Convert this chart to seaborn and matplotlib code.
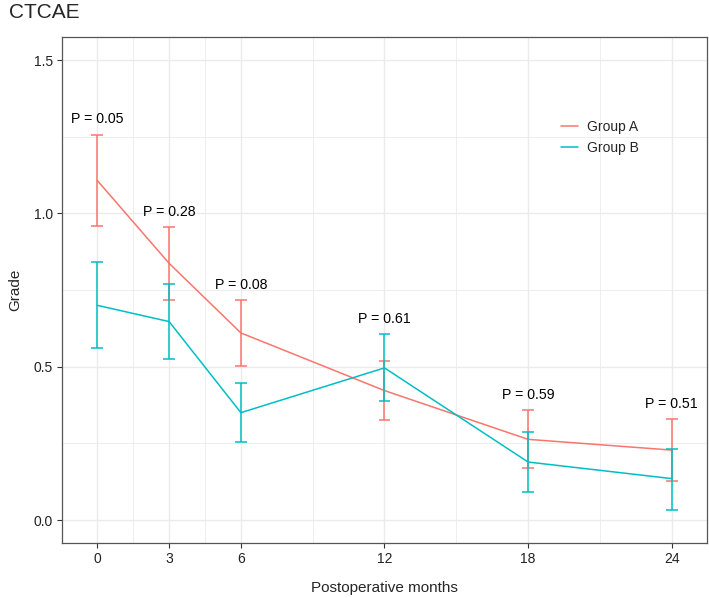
import matplotlib
matplotlib.use("Agg")
import matplotlib.pyplot as plt
import numpy as np
import pandas as pd
import seaborn as sns

# data
months = [0, 3, 6, 12, 18, 24]
a_mean = [1.107, 0.837, 0.610, 0.422, 0.263, 0.228]
a_low = [0.958, 0.716, 0.502, 0.325, 0.169, 0.127]
a_high = [1.256, 0.955, 0.716, 0.519, 0.359, 0.328]
b_mean = [0.700, 0.647, 0.350, 0.496, 0.189, 0.135]
b_low = [0.562, 0.525, 0.255, 0.389, 0.092, 0.033]
b_high = [0.840, 0.770, 0.447, 0.606, 0.286, 0.232]
p_labels = ["P = 0.05", "P = 0.28", "P = 0.08", "P = 0.61", "P = 0.59", "P = 0.51"]
groups = ["Group A", "Group B"]
colors = {"Group A": "#F8766D", "Group B": "#00BFC4"}

df = pd.DataFrame({
    "month": months * 2,
    "grade": a_mean + b_mean,
    "low": a_low + b_low,
    "high": a_high + b_high,
    "group": [groups[0]] * len(months) + [groups[1]] * len(months),
})

sns.set_theme(style="white")
plt.rcParams["font.family"] = ["Liberation Sans", "DejaVu Sans"]

fig = plt.figure(figsize=(7.09, 5.98), dpi=100)
ax = fig.add_axes([62 / 709, 1 - 543 / 598, 645 / 709, 506 / 598])

# grid like ggplot (major + minor)
for x in [0, 3, 6, 12, 18, 24]:
    ax.axvline(x, color="#EBEBEB", lw=1.0, zorder=0)
for x in [1.5, 4.5, 9, 15, 21]:
    ax.axvline(x, color="#EBEBEB", lw=0.6, zorder=0)
for y in [0, 0.5, 1.0, 1.5]:
    ax.axhline(y, color="#EBEBEB", lw=1.0, zorder=0)
for y in [0.25, 0.75, 1.25]:
    ax.axhline(y, color="#EBEBEB", lw=0.6, zorder=0)

sns.lineplot(data=df, x="month", y="grade", hue="group", palette=colors,
             linewidth=1.1, ax=ax, zorder=3)

hw = 0.25
for g in groups:
    sub = df[df["group"] == g]
    c = colors[g]
    ax.vlines(sub["month"], sub["low"], sub["high"], color=c, lw=1.1, zorder=4)
    ax.hlines(sub["low"], sub["month"] - hw, sub["month"] + hw, color=c, lw=1.1, zorder=4)
    ax.hlines(sub["high"], sub["month"] - hw, sub["month"] + hw, color=c, lw=1.1, zorder=4)

for m, lab, h1, h2 in zip(months, p_labels, a_high, b_high):
    ax.text(m, max(h1, h2) + 0.05, lab, ha="center", va="center",
            fontsize=10.2, color="black", zorder=5)

ax.set_xlim(-1.475, 25.475)
ax.set_ylim(-0.075, 1.575)
ax.set_xticks(months)
ax.set_yticks([0.0, 0.5, 1.0, 1.5])
ax.set_yticklabels(["0.0", "0.5", "1.0", "1.5"])
ax.tick_params(axis="both", which="major", length=3.5, width=0.8, color="#333333",
               labelsize=10, labelcolor="#222222", pad=3, bottom=True, left=True)
for s in ax.spines.values():
    s.set_color("#555555")
    s.set_linewidth(0.9)

ax.set_xlabel("Postoperative months", fontsize=11, labelpad=11)
ax.set_ylabel("Grade", fontsize=11, labelpad=8)

leg = ax.legend(loc="upper left", bbox_to_anchor=(0.755, 0.86), frameon=False,
                fontsize=10, handlelength=1.2, handletextpad=0.65, labelspacing=0.45)
for line in leg.get_lines():
    line.set_linewidth(1.1)

fig.text(9 / 709, 1 - 18 / 598, "CTCAE", fontsize=15, va="baseline", ha="left")

fig.savefig("out.png", dpi=100)
